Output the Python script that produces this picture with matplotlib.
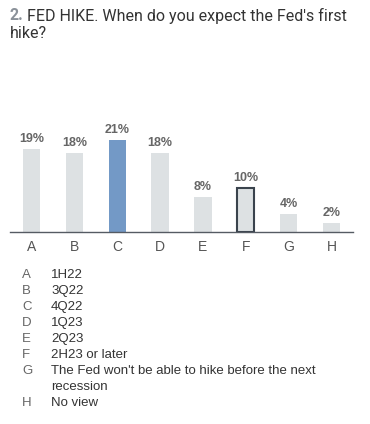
import matplotlib
matplotlib.use("Agg")
import matplotlib.pyplot as plt

categories = ["A", "B", "C", "D", "E", "F", "G", "H"]
values = [19, 18, 21, 18, 8, 10, 4, 2]
answers = ["1H22", "3Q22", "4Q22", "1Q23", "2Q23", "2H23 or later",
           "The Fed won't be able to hike before the next\nrecession", "No view"]
highlight = "C"
selected = "F"

W, H = 370, 424
fig = plt.figure(figsize=(W / 100, H / 100), dpi=100)

def fx(px):
    return px / W

def fy(py):
    return 1 - py / H

# title
t1 = fig.text(fx(10), fy(16), "2.", fontsize=11.5, color="#8a9199", fontweight="bold",
              family="Roboto", va="center", ha="left")
fig.text(fx(27), fy(16), "FED HIKE. When do you expect the Fed's first", fontsize=11.5,
         color="#333333", family="Roboto", va="center", ha="left")
fig.text(fx(10), fy(34), "hike?", fontsize=11.5, color="#333333", family="Roboto",
         va="center", ha="left")

ax_top, ax_bot = 110, 232
ax = fig.add_axes([fx(10), fy(ax_bot), fx(353) - fx(10), (ax_bot - ax_top) / H])
ax.set_xlim(-0.5, 7.5)
ax.set_ylim(0, (ax_bot - ax_top) / 4.38)

xs = list(range(len(categories)))
colors = ["#7399c6" if c == highlight else "#dde1e3" for c in categories]
bars = ax.bar(xs, values, width=0.4, color=colors, zorder=2)
for b, c in zip(bars, categories):
    if c == selected:
        b.set_edgecolor("#3a434d")
        b.set_linewidth(1.5)
for x, v in zip(xs, values):
    ax.annotate(f"{v}%", (x, v), xytext=(0, 3), textcoords="offset points",
                ha="center", va="bottom", fontsize=9, fontweight="bold",
                color="#666666", family="Liberation Sans")

for s in ["top", "right", "left"]:
    ax.spines[s].set_visible(False)
ax.spines["bottom"].set_color("#555b63")
ax.spines["bottom"].set_linewidth(1)
ax.spines["bottom"].set_zorder(3)
ax.set_yticks([])
ax.set_xticks(xs)
ax.set_xticklabels(categories, fontsize=10, color="#555555", family="Liberation Sans")
ax.tick_params(axis="x", length=0, pad=6)

# legend list
y = 275
for c, a in zip(categories, answers):
    fig.text(fx(22), fy(y), c, fontsize=9.5, color="#666666", family="Liberation Sans",
             va="center", ha="left")
    for ln in a.split("\n"):
        fig.text(fx(51), fy(y), ln, fontsize=9.5, color="#333333", family="Liberation Sans",
                 va="center", ha="left")
        y += 16

fig.savefig("out.png", dpi=100)
